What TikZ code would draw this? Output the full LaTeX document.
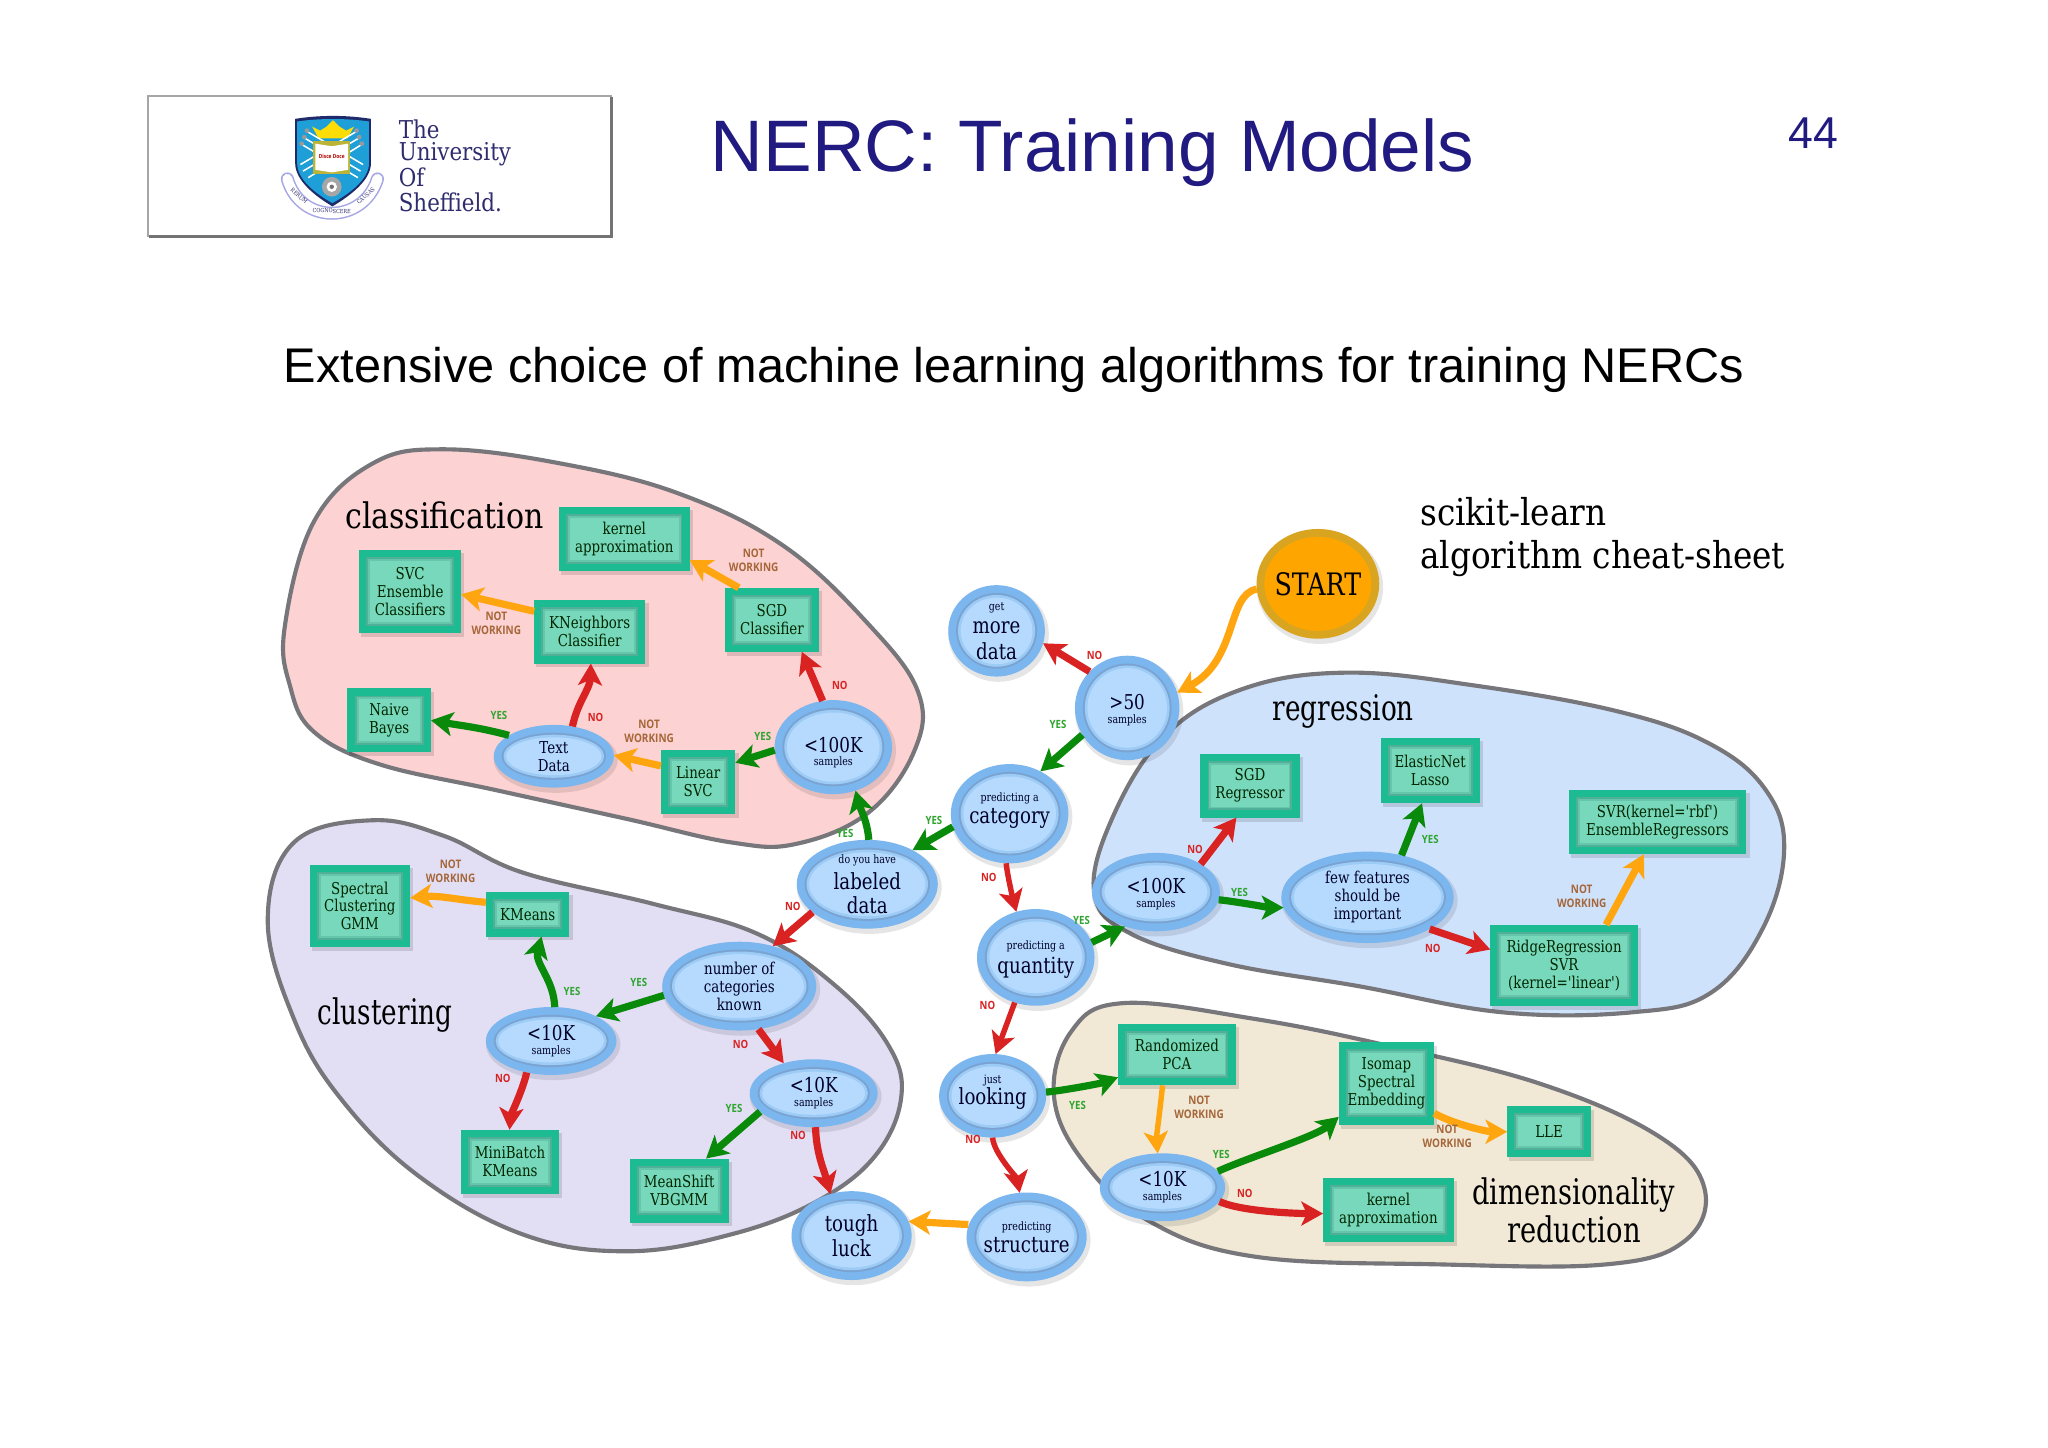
\documentclass[tikz,border=0pt]{standalone}
\usepackage{fontspec}
\usetikzlibrary{arrows.meta,calc,shapes.geometric}
\setmainfont{Liberation Sans}
\newfontfamily\dsf[FakeStretch=.82]{DejaVu Serif}
\newfontfamily\dsfA[FakeStretch=.85]{DejaVu Serif}
\newfontfamily\dsfB[FakeStretch=.885]{DejaVu Serif}
\newfontfamily\dsfC[FakeStretch=.745]{DejaVu Serif}
\newfontfamily\dsfD[FakeStretch=.775]{DejaVu Serif}
\newfontfamily\shf[FakeStretch=.87]{DejaVu Serif}
\newfontfamily\lblf[FakeStretch=.85]{Open Sans}
\definecolor{navy}{HTML}{211A80}
\definecolor{shfblue}{HTML}{2F2C6E}
\definecolor{blobstroke}{HTML}{77777B}
\definecolor{gn}{HTML}{0A8A0A}
\definecolor{rd}{HTML}{D92222}
\definecolor{og}{HTML}{FFA50F}
\definecolor{ringb}{HTML}{7BB6EE}
\definecolor{ringbd}{HTML}{7AA3D2}
\definecolor{ringbm}{HTML}{9CCBF6}
\definecolor{inb}{HTML}{B5DAFE}
\definecolor{ringt}{HTML}{1DBB92}
\definecolor{ringtd}{HTML}{4FB097}
\definecolor{ringtm}{HTML}{66C6AB}
\definecolor{int}{HTML}{78D8BB}
\definecolor{pinkb}{HTML}{FDD2D2}
\definecolor{lilab}{HTML}{E2DFF5}
\definecolor{blueb}{HTML}{CFE2FC}
\definecolor{sandb}{HTML}{F1E9D6}
\definecolor{ogring}{HTML}{D9A520}
\definecolor{ogin}{HTML}{FFA500}
\definecolor{nwbrown}{HTML}{A5673A}
\definecolor{yesgn}{HTML}{2FA52F}
\definecolor{shieldb}{HTML}{1E9FD8}
\definecolor{shieldn}{HTML}{1F2A6B}
\newcommand{\smf}{\fontsize{5.3}{6.4}\selectfont}
\newcommand{\mdf}{\fontsize{7.5}{8.2}\selectfont}
\newcommand{\lgf}{\fontsize{10.2}{11.6}\selectfont}
\newcommand{\lgn}{\fontsize{9.4}{11.6}\selectfont}
\newcommand{\ovalnd}[6]{%
  \fill[black,opacity=.10] (#2+1.5,#3+2.5) ellipse [x radius=#4+1.5,y radius=#5+1.5];
  \fill[ringb] (#2,#3) ellipse [x radius=#4,y radius=#5];
  \fill[ringbd] (#2,#3) ellipse [x radius=#4-6,y radius=#5-6];
  \fill[ringbm] (#2,#3) ellipse [x radius=#4-7.5,y radius=#5-7.5];
  \fill[inb] (#2,#3) ellipse [x radius=#4-9.5,y radius=#5-9.5];
  \node[ellshape={#4}{#5}] (#1) at (#2,#3) {#6};
}
\newcommand{\boxnd}[6]{%
  \fill[black,opacity=.12] (#2-#4/2+1.5,#3-#5/2+2.5) rectangle (#2+#4/2+2.5,#3+#5/2+3);
  \fill[ringt] (#2-#4/2,#3-#5/2) rectangle (#2+#4/2,#3+#5/2);
  \fill[ringtd] (#2-#4/2+5.5,#3-#5/2+5.5) rectangle (#2+#4/2-5.5,#3+#5/2-5.5);
  \fill[ringtm] (#2-#4/2+7,#3-#5/2+7) rectangle (#2+#4/2-7,#3+#5/2-7);
  \fill[int] (#2-#4/2+8.5,#3-#5/2+8.5) rectangle (#2+#4/2-8.5,#3+#5/2-8.5);
  \node[rectshape={#4}{#5}] (#1) at (#2,#3) {#6};
}
\tikzset{
  x=0.6pt,y=-0.6pt,
  ellshape/.style 2 args={shape=ellipse,inner sep=0pt,outer sep=0pt,align=center,text=black!85!blue,
     minimum width={2*#1*0.6pt},minimum height={2*#2*0.6pt},font=\dsf\mdf},
  rectshape/.style 2 args={shape=rectangle,inner sep=0pt,outer sep=0pt,align=center,text=black!85!green,
     minimum width={#1*0.6pt},minimum height={#2*0.6pt},font=\dsf\mdf},
  blob/.style={draw=blobstroke,line width=1.9pt,line join=round},
  conn/.style={line width=3.3pt,-{Stealth[length=10pt,width=11pt,inset=2.5pt]}},
  gnarrow/.style={conn,draw=gn,color=gn},
  rdarrow/.style={conn,draw=rd,color=rd},
  ogarrow/.style={conn,draw=og,color=og},
  thinar/.style={line width=2.5pt},
  yeslbl/.style={font=\lblf\bfseries\fontsize{5.2}{6}\selectfont,text=yesgn,inner sep=0pt},
  nolbl/.style={font=\lblf\bfseries\fontsize{5.2}{6}\selectfont,text=rd,inner sep=0pt},
  nwlbl/.style={font=\lblf\bfseries\fontsize{5.4}{6.4}\selectfont,text=nwbrown,inner sep=0pt,align=center},
  biglbl/.style={text=black,inner sep=0pt,align=center},
}
\begin{document}
\begin{tikzpicture}
\fill[white] (0,0) rectangle (1568,1107.9);
\useasboundingbox (0,0) rectangle (1568,1107.9);

% ---- header
\draw[draw=black!35,line width=1pt,fill=white] (113.5,73.5) rectangle (468,181);
\draw[draw=black!55,line width=1.2pt] (468,74) -- (468,181) -- (114,181);
\node[font=\fontsize{33.5}{38}\selectfont,text=navy,anchor=west,inner sep=0pt] (title) at (544,116.5) {NERC: Training Models};
\node[font=\fontsize{20.5}{26}\selectfont,text=navy,anchor=east,inner sep=0pt] (pageno) at (1408,102) {44};
\node[font=\fontsize{22.35}{28}\selectfont,text=black,anchor=west,inner sep=0pt] (subtitle) at (217,283) {Extensive choice of machine learning algorithms for training NERCs};

% logo: scroll
\draw[line width=6pt,draw=black!30!blue!35!white,line cap=round] (220,137) .. controls (230,172) and (278,172) .. (289,137);
\draw[line width=4.6pt,draw=white,line cap=round] (220,137) .. controls (230,172) and (278,172) .. (289,137);
% logo: shield
\fill[fill=shieldn] (226,91) .. controls (245,88) and (265,88) .. (284,91) -- (284,125) .. controls (284,138) and (268,150) .. (254.5,158) .. controls (241,150) and (226,138) .. (226,125) -- cycle;
\fill[fill=shieldb] (227.5,93) .. controls (245,90.5) and (265,90.5) .. (282.5,93) -- (282.5,125) .. controls (282.5,137) and (268,148) .. (254.5,155.5) .. controls (241,148) and (227.5,137) .. (227.5,125) -- cycle;
% crown
\fill[yellow!80!orange] (239,97) -- (245,100) -- (250,97) -- (255,92) -- (260,97) -- (265,100) -- (271,97) -- (266,106) -- (244,106) -- cycle;
% crossed arrows
\foreach \a/\b/\c/\d in {232/105/276/131, 234/100/278/126, 230/110/274/136, 276/105/232/131, 274/100/230/126, 278/110/236/136}{
  \draw[line width=.7pt,draw=white] (\a,\b) -- (\c,\d);
}
\foreach \a/\b in {233/105, 235/100, 231/110, 275/105, 273/100, 277/110}{
  \fill[black!40] (\a,\b) circle [radius=1.8];
}
% book
\fill[yellow!70!black] (240,108) rectangle (268,133);
\fill[white] (241.5,110) -- (254,112) -- (266.5,110) -- (266.5,130) -- (254,132) -- (241.5,130) -- cycle;
\node[font=\lblf\bfseries\fontsize{2.6}{3}\selectfont,text=red!70!black,inner sep=0pt] (motto) at (254,120) {Disce Doce};
% rose
\fill[black!35] (254,143) circle [radius=7.5];
\fill[white] (254,143) circle [radius=4];
\fill[black!55] (254,143) circle [radius=1.7];
% scroll words
\node[font=\shf\fontsize{2.6}{3}\selectfont,text=shfblue,rotate=-42,inner sep=0pt] (sc1) at (229,150) {RERUM};
\node[font=\shf\fontsize{2.6}{3}\selectfont,text=shfblue,rotate=-2,inner sep=0pt] (sc2) at (254,161.5) {COGNOSCERE};
\node[font=\shf\fontsize{2.6}{3}\selectfont,text=shfblue,rotate=42,inner sep=0pt] (sc3) at (280,150) {CAUSAS};
% logo text
\foreach \t/\yy [count=\i] in {The/99,University/118,Of/136,Sheffield./155}{
  \node[font=\shf\fontsize{11.3}{13}\selectfont,text=shfblue,anchor=west,inner sep=0pt] (shf\i) at (305,\yy) {\t};
}

% ---- blobs
\draw[blob,fill=pinkb] plot[smooth cycle,tension=.65] coordinates {(218,480) (240,400) (285,355) (340,344) (430,355) (520,378) (600,418) (665,478) (703,530) (700,575) (665,622) (610,646) (560,645) (480,627) (380,605) (290,585) (240,560) (222,525)};
\draw[blob,fill=lilab] plot[smooth cycle,tension=.65] coordinates {(205,705) (225,645) (285,628) (340,640) (400,668) (500,692) (580,715) (640,755) (680,800) (690,840) (670,885) (625,920) (560,945) (480,958) (400,945) (320,900) (260,840) (225,780)};
\draw[blob,fill=blueb] plot[smooth cycle,tension=.65] coordinates {(838,685) (850,630) (890,565) (950,528) (1030,515) (1130,525) (1240,545) (1310,570) (1352,605) (1366,650) (1350,710) (1310,760) (1250,775) (1150,775) (1040,755) (940,738) (866,715)};
\draw[blob,fill=sandb] plot[smooth cycle,tension=.65] coordinates {(807,840) (820,790) (860,768) (960,780) (1060,800) (1180,830) (1270,870) (1305,910) (1290,950) (1230,968) (1100,968) (960,962) (880,935) (830,890)};

% ---- big labels
\node[biglbl,anchor=west,font=\dsfA\fontsize{16.2}{20}\selectfont] (lclass) at (264,394.5) {classification};
\node[biglbl,anchor=west,font=\dsfC\fontsize{16.2}{20}\selectfont] (lclust) at (243,777) {clustering};
\node[biglbl,anchor=west,font=\dsfC\fontsize{16.2}{20}\selectfont] (lregr) at (974,545) {regression};
\node[biglbl,anchor=west,font=\dsfB\fontsize{17}{20}\selectfont] (lsk1) at (1087,392) {scikit-learn};
\node[biglbl,anchor=west,font=\dsfB\fontsize{17}{20}\selectfont] (lsk2) at (1087,428) {algorithm cheat-sheet};
\node[biglbl,font=\dsfD\fontsize{16.2}{20}\selectfont] (ldim1) at (1205,915) {dimensionality};
\node[biglbl,font=\dsfD\fontsize{16.2}{20}\selectfont] (ldim2) at (1205,941) {reduction};

% ---- estimators
\boxnd{kern1}{478}{412.5}{100}{49}{kernel\\approximation}
\boxnd{svc}{314}{453}{78}{64}{SVC\\Ensemble\\Classifiers}
\boxnd{knn}{451.5}{483.5}{85}{49}{KNeighbors\\Classifier}
\boxnd{sgdc}{591}{474.5}{72}{49}{SGD\\Classifier}
\boxnd{nb}{298}{551.5}{64}{49}{Naive\\Bayes}
\boxnd{lsvc}{534.5}{598.5}{57}{49}{Linear\\SVC}
\boxnd{spec}{275.5}{693.5}{77}{63}{Spectral\\Clustering\\GMM}
\boxnd{km}{404}{700}{64}{34}{KMeans}
\boxnd{mbk}{390.5}{889.5}{75}{49}{MiniBatch\\KMeans}
\boxnd{ms}{520}{911.5}{76}{49}{MeanShift\\VBGMM}
\boxnd{sgdr}{957}{601.5}{76}{49}{SGD\\Regressor}
\boxnd{enet}{1095}{590}{76}{50}{ElasticNet\\Lasso}
\boxnd{svr}{1269}{629.5}{136}{49}{SVR(kernel='rbf')\\EnsembleRegressors}
\boxnd{ridge}{1197.5}{739}{113}{62}{RidgeRegression\\SVR\\(kernel='linear')}
\boxnd{rpca}{901}{807.5}{90}{47}{Randomized\\PCA}
\boxnd{iso}{1061.5}{829.5}{73}{63}{Isomap\\Spectral\\Embedding}
\boxnd{lle}{1186}{866.5}{64}{39}{LLE}
\boxnd{kern2}{1063}{926.5}{100}{49}{kernel\\approximation}

% ---- decision nodes
\fill[black,opacity=.10] (1010.5,449.5) ellipse [x radius=48.5,y radius=43.5];
\fill[ogring] (1009,447) ellipse [x radius=47,y radius=42];
\fill[ogin] (1009,447) ellipse [x radius=41,y radius=36];
\node[ellshape={47}{42},font=\dsf\fontsize{14.2}{16}\selectfont,text=black] (start) at (1009,447) {START};

\ovalnd{more}{763}{483}{37}{35}{{\smf get}\\[2.6pt]{\lgf more}\\[3.5pt]{\lgf data}}
\ovalnd{gt50}{863}{542}{40}{40}{\rule{0pt}{9pt}{\lgn >50}\\[-2pt]{\smf samples}}
\ovalnd{cat}{773}{623}{45}{38}{{\smf predicting a}\\[2pt]{\lgf category\rule[-5pt]{0pt}{5pt}}}
\ovalnd{c100}{638}{572}{45}{36}{\rule{0pt}{12pt}{\lgn <100K}\\[-2pt]{\smf samples}}
\ovalnd{text}{424}{579}{46}{24}{Text\\Data}
\ovalnd{lab}{664}{677}{54}{34}{{\smf do you have}\\[1.8pt]{\lgf labeled}\\[3pt]{\lgf data}}
\ovalnd{num}{566}{755}{59}{34}{number of\\categories\\known}
\ovalnd{l10}{422}{797}{50}{26}{{\lgn <10K}\\[-2pt]{\smf samples}}
\ovalnd{r10}{623}{837}{49}{26}{{\lgn <10K}\\[-2pt]{\smf samples}}
\ovalnd{tough}{652}{946}{46}{34}{{\lgf tough}\\[.5pt]{\lgf luck}}
\ovalnd{r100}{885}{683}{49}{30}{\rule{0pt}{9pt}{\lgn <100K}\\[-2pt]{\smf samples}}
\ovalnd{few}{1047}{687}{66}{35}{few features\\should be\\important}
\ovalnd{quant}{793}{733}{45}{37}{{\smf\rule{0pt}{6.4pt}predicting a}\\[1.4pt]{\lgf quantity}}
\ovalnd{look}{760}{839}{41}{32}{{\smf just}\\[-.4pt]{\lgf looking\rule[-5.5pt]{0pt}{5.5pt}}}
\ovalnd{struct}{786}{947}{46}{34}{{\smf predicting}\\[2pt]{\lgf structure}}
\ovalnd{d10}{890}{909}{48}{26}{{\lgn <10K}\\[-2pt]{\smf samples}}

% ---- connectors
\draw[ogarrow] (sgdc.136) -- (kern1.-18);
\draw[ogarrow] (knn.160) -- (svc.-3);
\draw[rdarrow] (c100.103) -- (sgdc.-47);
\draw[rdarrow] (text.58) to[out=78,in=-92] (knn.-88);
\draw[gnarrow] (text.155) to[out=165,in=-10] (nb.0);
\draw[ogarrow] (lsvc.157) -- (text.1);
\draw[gnarrow] (c100.183) -- (lsvc.27);
\draw[gnarrow] (lab.88) to[out=95,in=-75] (c100.-63);
\draw[gnarrow] (cat.193) -- (lab.37);
\draw[gnarrow] (gt50.211) -- (cat.54);
\draw[rdarrow] (gt50.136) -- (more.-15);
\draw[ogarrow] (start.185) .. controls (939,455) and (948,505) .. (gt50.17);
\draw[rdarrow] (lab.207) -- (num.50);
\draw[gnarrow] (num.187) -- (l10.29);
\draw[rdarrow] (num.-66) -- (r10.135);
\draw[gnarrow] (l10.84) to[out=92,in=-105] (km.-58);
\draw[ogarrow] (km.164) to[out=175,in=5] (spec.9);
\draw[rdarrow] (l10.-128) to[out=-100,in=85,looseness=.6] (mbk.91);
\draw[gnarrow] (r10.199) -- (ms.50);
\draw[rdarrow] (r10.-87) to[out=-88,in=105] (tough.117);
\draw[ogarrow] (struct.168) -- (tough.14);
\draw[rdarrow,thinar] (look.-90) to[out=-88,in=100,looseness=.6] (struct.99);
\draw[rdarrow,thinar] (quant.-115) -- (look.86);
\draw[rdarrow,thinar] (cat.-94) to[out=-85,in=105,looseness=.6] (quant.113);
\draw[gnarrow] (quant.15) -- (r100.228);
\draw[rdarrow] (r100.32) -- (sgdr.-113);
\draw[gnarrow] (r100.-7) to[out=-5,in=180,looseness=.5] (few.187);
\draw[gnarrow] (few.51) -- (enet.-104);
\draw[rdarrow] (few.-27) -- (ridge.168);
\draw[ogarrow] (ridge.44) -- (svr.-113);
\draw[gnarrow] (look.4) to[out=5,in=200,looseness=.6] (rpca.201);
\draw[ogarrow,thinar] (rpca.-115) to[out=-95,in=95,looseness=.6] (d10.98);
\draw[gnarrow] (d10.16) to[out=25,in=220,looseness=.6] (iso.215);
\draw[rdarrow] (d10.-14) to[out=-25,in=180,looseness=.6] (kern2.183);
\draw[ogarrow] (iso.-32) to[out=-30,in=180,looseness=.7] (lle.180);

% ---- connector labels
\foreach \xx/\yy [count=\i] in {577/429,380/477,497/560,345/667,1211/686,918/848,1108/870}{
  \node[nwlbl] (nw\i) at (\xx,\yy) {NOT\\WORKING};
}
\foreach \xx/\yy [count=\i] in {643/525,456/549,607/694,757/672,838/502,915/650,1097/726,567/800,385/826,611/869,756/770,745/872,953/914}{
  \node[nolbl] (no\i) at (\xx,\yy) {NO};
}
\foreach \xx/\yy [count=\i] in {382/548,584/564,647/638,715/628,810/555,489/752,438/759,562/849,828/705,949/683,1095/643,825/846,935/884}{
  \node[yeslbl] (yes\i) at (\xx,\yy) {YES};
}
\end{tikzpicture}
\end{document}
